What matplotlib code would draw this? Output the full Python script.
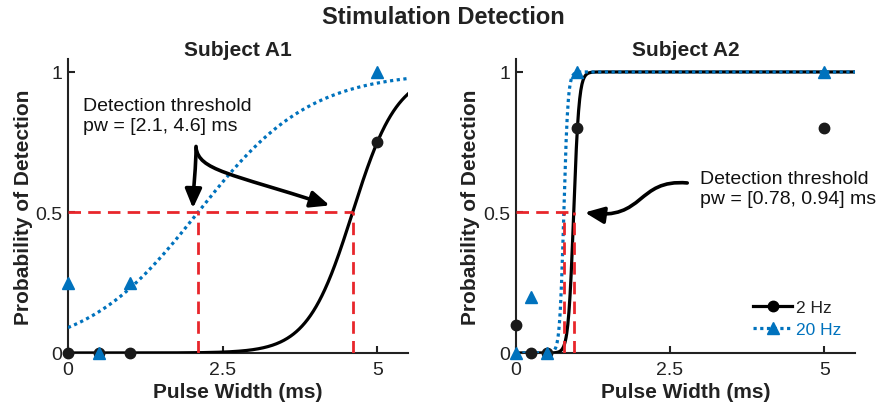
import numpy as np

import matplotlib
matplotlib.use('Agg')
import matplotlib.pyplot as plt
from matplotlib.patches import FancyArrowPatch
from matplotlib.path import Path
from matplotlib.lines import Line2D

# measured detection probabilities
pw_a1 = [0, 0.5, 1, 5]
p_a1_2hz = [0, 0, 0, 0.75]
p_a1_20hz = [0.25, 0, 0.25, 1]

pw_a2 = [0, 0.25, 0.5, 1, 5]
p_a2_2hz = [0.1, 0, 0, 0.8, 0.8]
p_a2_20hz = [0, 0.2, 0, 1, 1]

# logistic fits: 50% threshold (ms) and slope, [2 Hz, 20 Hz]
thr_a1 = [4.6, 2.1]
slope_a1 = [2.75, 1.1]
thr_a2 = [0.94, 0.78]
slope_a2 = [23, 30]

labels = ["2 Hz", "20 Hz"]
xticks = [0, 2.5, 5]
yticks = [0, 0.5, 1]

BLUE = '#0072bd'
RED = '#e8262b'

plt.rcParams['font.family'] = ['Liberation Sans', 'DejaVu Sans']


def logistic(x, t, k):
    return 1.0 / (1.0 + np.exp(-k * (x - t)))


def draw(ax, pw, p2, p20, thr, slope, title):
    xs = np.linspace(0, 5.5, 600)
    ax.plot(xs, logistic(xs, thr[0], slope[0]), color='black', lw=2.3, zorder=3)
    ax.plot(xs, logistic(xs, thr[1], slope[1]), color=BLUE, lw=2.3,
            ls=(0, (1, 1.1)), zorder=4)
    # threshold guides
    ax.plot([0, max(thr)], [0.5, 0.5], color=RED, lw=2.0, ls=(0, (4.5, 2.6)), zorder=5)
    for t in thr:
        ax.plot([t, t], [0, 0.5], color=RED, lw=2.0, ls=(0, (4.5, 2.6)), zorder=5)
    ax.plot(pw, p2, 'o', color='#1a1a1a', ms=7.5, clip_on=False, zorder=6)
    ax.plot(pw, p20, '^', color=BLUE, ms=8, clip_on=False, zorder=7)

    ax.set_xlim(0, 5.5)
    ax.set_ylim(0, 1.046)
    ax.set_xticks(xticks)
    ax.set_xticklabels(['0', '2.5', '5'])
    ax.set_yticks(yticks)
    ax.set_yticklabels(['0', '0.5', '1'])
    for s in ['top', 'right']:
        ax.spines[s].set_visible(False)
    for s in ['left', 'bottom']:
        ax.spines[s].set_linewidth(1.5)
        ax.spines[s].set_color('#222222')
    ax.tick_params(direction='in', length=5, width=1.5, labelsize=14,
                   color='#222222', labelcolor='#222222')
    ax.tick_params(axis='x', pad=6)
    ax.tick_params(axis='y', pad=4)
    ax.set_xlabel("Pulse Width (ms)", fontsize=15, fontweight='bold', labelpad=3,
                  color='#222222')
    ax.set_ylabel("Probability of Detection", fontsize=15, fontweight='bold',
                  labelpad=2, color='#222222')
    ax.set_title(title, fontsize=15, fontweight='bold', pad=3, color='#222222')


def curved_arrow(ax, verts):
    codes = [Path.MOVETO] + [Path.CURVE4] * (len(verts) - 1)
    arr = FancyArrowPatch(path=Path(verts, codes),
                          arrowstyle='-|>,head_length=1.15,head_width=0.5',
                          mutation_scale=10, lw=2.6, color='black', zorder=8)
    ax.add_patch(arr)


fig = plt.figure(figsize=(8.77, 4.14), dpi=100)
ax1 = fig.add_axes([0.0775, 0.145, 0.388, 0.71])
ax2 = fig.add_axes([0.588, 0.145, 0.387, 0.71])

draw(ax1, pw_a1, p_a1_2hz, p_a1_20hz, thr_a1, slope_a1, "Subject A1")
draw(ax2, pw_a2, p_a2_2hz, p_a2_20hz, thr_a2, slope_a2, "Subject A2")

# annotations, subject A1
ax1.text(0.24, 0.845, "Detection threshold\npw = [%.1f, %.1f] ms" % (thr_a1[1], thr_a1[0]),
         fontsize=14, va='center', ha='left', linespacing=1.25, color='#111111')
curved_arrow(ax1, [(2.07, 0.735), (2.07, 0.66), (2.03, 0.6), (2.02, 0.515)])
curved_arrow(ax1, [(2.07, 0.73), (2.12, 0.65), (2.6, 0.64), (4.23, 0.525)])

# annotations, subject A2
ax2.text(2.99, 0.586, "Detection threshold\npw = [%.2f, %.2f] ms" % (thr_a2[1], thr_a2[0]),
         fontsize=14, va='center', ha='left', linespacing=1.25, color='#111111')
curved_arrow(ax2, [(2.78, 0.605), (1.95, 0.62), (2.1, 0.47), (1.12, 0.50)])

handles = [Line2D([], [], color='black', lw=2.3, marker='o', ms=7.5),
           Line2D([], [], color=BLUE, lw=2.3, ls=(0, (1, 1.1)), marker='^', ms=8)]
leg = ax2.legend(handles, labels, loc='center left', bbox_to_anchor=(0.675, 0.116),
                 frameon=False, fontsize=12.5, borderpad=0, handlelength=2.2,
                 handletextpad=0.25, labelspacing=0.4)
leg.get_texts()[0].set_color('#222222')
leg.get_texts()[1].set_color(BLUE)

fig.text(0.506, 0.957, "Stimulation Detection", fontsize=17, fontweight='bold',
         ha='center', va='center', color='#222222')

plt.savefig("out.png", format="png", dpi=100)
